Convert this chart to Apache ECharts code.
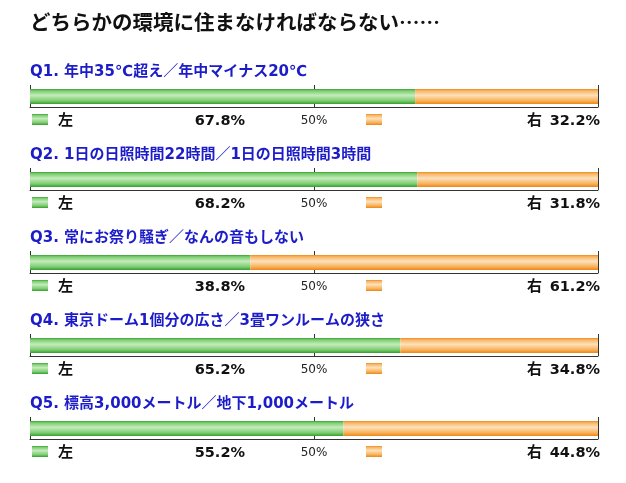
<!DOCTYPE html>
<html>
<head>
<meta charset="utf-8">
<script src="https://cdn.jsdelivr.net/npm/echarts@6/dist/echarts.min.js"></script>
<style>
html,body{margin:0;padding:0;background:#fff;}
#chart{width:626px;height:483px;}
</style>
</head>
<body>
<div id="chart"></div>
<script>
const chartTitle = 'どちらかの環境に住まなければならない……';
const questions = [
  'Q1. 年中35℃超え／年中マイナス20℃',
  'Q2. 1日の日照時間22時間／1日の日照時間3時間',
  'Q3. 常にお祭り騒ぎ／なんの音もしない',
  'Q4. 東京ドーム1個分の広さ／3畳ワンルームの狭さ',
  'Q5. 標高3,000メートル／地下1,000メートル'
];
const leftValues = [67.8, 68.2, 38.8, 65.2, 55.2];
const rightValues = [32.2, 31.8, 61.2, 34.8, 44.8];
const leftName = '左';
const rightName = '右';
const axisTicks = [0, 50, 100];

const FONT = '"DejaVu Sans", "Noto Sans CJK JP", sans-serif';
const JFONT = '"Noto Sans CJK JP", sans-serif';
const STEP = 83;
const PLOT_L = 30, PLOT_R = 598;

function grad(stops) {
  return new echarts.graphic.LinearGradient(0, 0, 0, 1,
    stops.map((c, i) => ({offset: [0, 0.12, 0.42, 0.78, 1][i], color: c})));
}
const greenStops = ['#36a42e', '#7dcc72', '#c4ecbb', '#80cd75', '#33a02b'];
const orangeStops = ['#ee8a1a', '#f8b664', '#fde1bc', '#f8b25a', '#ec8616'];

const grids = [], xAxes = [], yAxes = [], series = [], graphics = [];

graphics.push({
  type: 'text', left: 30, top: 12,
  style: {text: chartTitle, font: 'bold 20.5px ' + JFONT, fill: '#111'}
});

questions.forEach((q, i) => {
  const off = STEP * i;
  grids.push({left: PLOT_L, width: PLOT_R - PLOT_L, top: 86 + off, height: 21, containLabel: false});
  xAxes.push({
    type: 'value', gridIndex: i, min: 0, max: 100, interval: 50,
    axisLine: {show: true, lineStyle: {color: '#333', width: 1}},
    axisTick: {show: true, inside: true, length: 22, lineStyle: {color: '#333', width: 1}},
    splitLine: {show: false},
    axisLabel: {
      show: true, margin: 8, fontSize: 12, fontFamily: FONT, color: '#222',
      formatter: v => (v === axisTicks[1] ? v + '%' : '')
    }
  });
  yAxes.push({type: 'category', gridIndex: i, data: [q], show: false});
  series.push({
    type: 'bar', name: leftName, stack: 's' + i, xAxisIndex: i, yAxisIndex: i,
    barWidth: 15, data: [leftValues[i]], itemStyle: {color: grad(greenStops)}, silent: true, z: 1
  });
  series.push({
    type: 'bar', name: rightName, stack: 's' + i, xAxisIndex: i, yAxisIndex: i,
    barWidth: 15, data: [rightValues[i]], itemStyle: {color: grad(orangeStops)}, silent: true, z: 1
  });

  graphics.push({
    type: 'text', x: 30, y: 72 + off,
    style: {text: q, font: 'bold 15px ' + FONT, fill: '#1c1cc8', textVerticalAlign: 'middle', verticalAlign: 'middle'}
  });
  const ly = 120 + off;
  graphics.push({
    type: 'rect', shape: {x: 32, y: ly - 6, width: 16, height: 11},
    style: {fill: grad(greenStops)}
  });
  graphics.push({
    type: 'text', x: 58, y: ly - 1,
    style: {text: leftName, font: 'bold 15px ' + JFONT, fill: '#111', textVerticalAlign: 'middle', verticalAlign: 'middle'}
  });
  graphics.push({
    type: 'text', x: 245, y: ly + 1,
    style: {text: leftValues[i].toFixed(1) + '%', font: 'bold 14.5px ' + FONT, fill: '#111',
      textAlign: 'right', align: 'right', textVerticalAlign: 'middle', verticalAlign: 'middle'}
  });
  graphics.push({
    type: 'rect', shape: {x: 366, y: ly - 6, width: 16, height: 11},
    style: {fill: grad(orangeStops)}
  });
  graphics.push({
    type: 'text', x: 600, y: ly + 1,
    style: {text: rightValues[i].toFixed(1) + '%', font: 'bold 14.5px ' + FONT, fill: '#111',
      textAlign: 'right', align: 'right', textVerticalAlign: 'middle', verticalAlign: 'middle'}
  });
  graphics.push({
    type: 'text', x: 542, y: ly - 1,
    style: {text: rightName, font: 'bold 15px ' + JFONT, fill: '#111',
      textAlign: 'right', align: 'right', textVerticalAlign: 'middle', verticalAlign: 'middle'}
  });
});

const chart = echarts.init(document.getElementById('chart'), null, {renderer: 'canvas'});
chart.setOption({
  backgroundColor: '#fff',
  animation: false,
  grid: grids,
  xAxis: xAxes,
  yAxis: yAxes,
  series: series,
  graphic: graphics
});
</script>
</body>
</html>
